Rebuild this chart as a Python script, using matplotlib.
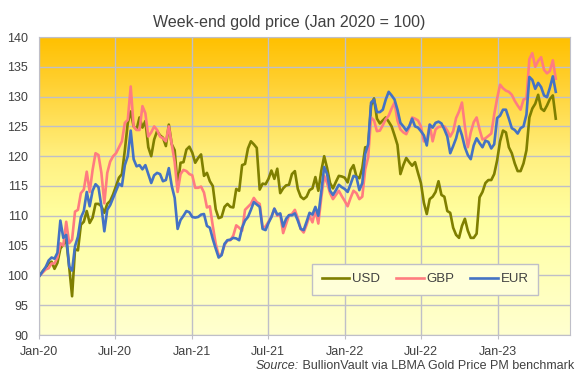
import numpy as np
import pandas as pd
import matplotlib
matplotlib.use('Agg')
import matplotlib.pyplot as plt
import matplotlib.dates as mdates
from matplotlib.colors import LinearSegmentedColormap

plt.rcParams['font.family'] = ['Liberation Sans', 'DejaVu Sans']

# weekly (Friday) index, Jan 2020 = 100
weeks = pd.date_range('2020-01-03', periods=177, freq='W-FRI')

usd = [100, 100.7, 101.3, 102, 102.3, 101.1, 102.1, 104.5, 105.2, 106,
       101.5, 96.5, 104.4, 104.2, 108.5, 109, 110.8, 108.8, 109.7, 112,
       112, 111.6, 110.5, 112, 112.5, 113.6, 115, 116.4, 117, 121,
       125.6, 127.5, 125, 124.5, 126.5, 124.8, 125.9, 121.5, 120, 122.8,
       124.2, 123.5, 123.1, 121.7, 125.3, 122, 121, 115, 118.9, 119,
       121.1, 121.6, 120.6, 118.9, 119.7, 120.3, 116.7, 117.2, 115.8, 115,
       111.1, 109.6, 109.8, 111.5, 112, 111.5, 111.4, 114.5, 114.2, 118.5,
       118.7, 121.3, 122.5, 122, 121.4, 114.4, 115.4, 115.3, 116.2, 117.6,
       116.2, 117.9, 113.8, 114.6, 115.1, 115.2, 117, 117.5, 114.5, 113.2,
       112.8, 113.2, 114.3, 114.6, 116.5, 114.2, 117.5, 120, 118, 115.5,
       114.6, 115.7, 116.7, 116.6, 116.4, 115.6, 117.7, 118.5, 116.6, 116.3,
       118, 121.5, 121.5, 128.5, 129.7, 126.3, 125.5, 126, 126.5, 125.8,
       125, 123.5, 121.9, 117, 118.5, 119.7, 119, 118.4, 119, 117.2,
       115.5, 112.2, 110.3, 112.8, 113.2, 114, 115.8, 113.5, 113.2, 110.8,
       110.5, 108, 106.8, 106.3, 108.3, 109.5, 107.5, 106.3, 106.3, 107,
       113.1, 114, 115.5, 116, 116, 117, 119.3, 122.5, 124.3, 124,
       121.5, 120.5, 118.8, 117.5, 117.5, 118.8, 121, 126.5, 128, 128.8,
       130.3, 128, 127.6, 128.5, 129.6, 130.2, 126.3]

gbp = [100, 100.5, 101, 101.2, 102, 102, 103, 105.4, 105, 109,
       105.4, 106, 110.7, 111, 113.8, 114.4, 117.4, 114, 117.7, 120.5,
       120.2, 117.2, 112.1, 117.2, 119.1, 120, 120.5, 121.5, 122.5, 125.6,
       126.1, 131.7, 125, 124.4, 124.4, 128.4, 127.2, 123.3, 124, 125,
       124.4, 123.3, 123, 122.5, 125, 122, 119, 114, 117, 117.7,
       117.5, 117, 116.8, 114.7, 114.7, 114.9, 113.9, 111.4, 111.6, 108.3,
       105.3, 103.4, 103.5, 105.1, 105.9, 105.9, 106.7, 108.4, 108, 107.5,
       111, 111.5, 112, 113, 112.3, 112, 108, 108.2, 109, 109.8,
       111.2, 110, 110.3, 107.1, 108.6, 110.1, 110.3, 111, 109.6, 107.8,
       107.2, 108.5, 110, 108.9, 111, 108.7, 113, 116.7, 115.5, 113.8,
       112.8, 113.5, 114.2, 113.3, 112.5, 111.6, 113, 114.2, 113.8, 112.8,
       113.2, 117.8, 119.8, 126.5, 126, 124.2, 124.3, 125.2, 126.2, 126.8,
       128, 129, 126, 124.5, 124, 123.7, 124.8, 126.5, 126.3, 126,
       125, 122.5, 122.5, 125.3, 122.5, 124.5, 124.9, 125, 125, 124.3,
       123.3, 124.2, 126.4, 127.5, 129, 125, 121.5, 124, 125.7, 126.5,
       124.5, 122.8, 123, 123.4, 123.8, 127, 129.7, 132, 131.4, 131,
       130.8, 130.3, 129.3, 128.5, 127.8, 129.5, 129.7, 136.3, 137.3, 135,
       136, 136.6, 134.5, 133.9, 134.3, 136.1, 133]

eur = [100, 100.7, 101.4, 102.5, 103, 102.8, 103.8, 109.2, 106.3, 106.8,
       101.5, 100.8, 104.9, 106.5, 109.7, 110.8, 114, 111.6, 114.2, 115.3,
       114.8, 111.6, 107.4, 111, 111.8, 113, 114.2, 115.4, 115, 118.5,
       120, 124.3, 119.5, 118.3, 118.5, 117.8, 118.5, 117, 115.5, 116.8,
       117.2, 117, 115.8, 116, 118, 115, 113, 107.8, 109.3, 110,
       110.8, 110.6, 109.8, 109.7, 109.8, 110.2, 110.3, 108.3, 108, 106.1,
       104.5, 103, 103.4, 105.3, 105.9, 106, 106.3, 106.2, 105.9, 108,
       109.2, 109.8, 111, 112.3, 111.9, 111.5, 107.8, 107.6, 108.8, 109.8,
       111.2, 110.2, 110.4, 108.2, 109.5, 110.1, 110.1, 110.4, 109.2, 107.8,
       107.6, 109, 110.5, 110.2, 111.5, 110, 114, 118.2, 117, 114.2,
       113.5, 114.3, 115.2, 114.8, 114.5, 114, 115.3, 116.7, 116.5, 114.3,
       115.5, 120.4, 122, 129, 129.5, 127.4, 127.4, 127.8, 129.5, 130.8,
       130.2, 129.5, 127.8, 125.6, 125, 124.3, 125, 126.3, 125, 124.8,
       124.2, 123.5, 121.8, 125.3, 124.8, 125.6, 125.8, 125.5, 124.5, 123.3,
       120.5, 121.7, 123, 125, 123.5, 121.5, 120.2, 119.5, 121.8, 123,
       122.2, 121.5, 122.6, 122.4, 121.3, 122, 126.4, 126.8, 127.8, 127.8,
       126.3, 124.7, 124.4, 123.8, 124.7, 125, 127, 133.3, 132.8, 131.3,
       132.3, 131.6, 130.2, 129.9, 131.5, 133.4, 130.8]

fig = plt.figure(figsize=(5.77, 3.81), dpi=100)
pos = [39 / 577, 1 - 335 / 381, 531 / 577, 298 / 381]

# gradient background behind the plot area
bg = fig.add_axes(pos, zorder=0)
cmap = LinearSegmentedColormap.from_list(
    'gold', [(0, '#FFFFD0'), (0.4, '#FFFFA0'), (0.6, '#FFF080'),
             (0.85, '#FFD030'), (1, '#FFC000')])
bg.imshow(np.linspace(0, 1, 256).reshape(-1, 1), cmap=cmap, aspect='auto',
          origin='lower', extent=[0, 1, 0, 1])
bg.axis('off')

ax = fig.add_axes(pos, zorder=1)
ax.patch.set_alpha(0)

ax.plot(weeks, usd, color='#7F7F00', lw=1.9, label='USD')
ax.plot(weeks, gbp, color='#FF7C80', lw=1.9, label='GBP')
ax.plot(weeks, eur, color='#4472C4', lw=1.9, label='EUR')

ax.set_ylim(90, 140)
ax.set_yticks(range(90, 141, 5))
ax.set_xlim(pd.Timestamp('2020-01-01'), pd.Timestamp('2023-06-22'))
ax.xaxis.set_major_locator(mdates.MonthLocator(bymonth=[1, 7]))
ax.xaxis.set_major_formatter(mdates.DateFormatter('%b-%y'))

ax.grid(color='#BFBFC8', lw=1)
ax.set_axisbelow(True)
for s in ax.spines.values():
    s.set_color('#BFBFC8')
ax.tick_params(axis='x', colors='#BFBFC8', length=3, pad=5, labelsize=9,
               labelcolor='#404040')
ax.tick_params(axis='y', length=0, pad=8, labelsize=9, labelcolor='#404040')

leg = ax.legend(ncol=3, loc='center', bbox_to_anchor=(0.727, 0.187),
                fancybox=False, edgecolor='#BFBFC8', facecolor='#FFFFD8',
                framealpha=1, fontsize=9.5, handlelength=2.1,
                handletextpad=0.2, columnspacing=1.2, borderpad=0.7)
for t in leg.get_texts():
    t.set_color('#404040')

fig.text(0.502, 0.942, 'Week-end gold price (Jan 2020 = 100)', ha='center',
         va='center', fontsize=11.5, color='#404040')
src = fig.text(0.995, 0.039, ' BullionVault via LBMA Gold Price PM benchmark',
               ha='right', va='center', fontsize=9, color='#404040')
fig.canvas.draw()
bb = src.get_window_extent()
fig.text(bb.x0 / fig.bbox.width, 0.039, 'Source:', ha='right', va='center',
         fontsize=9, color='#404040', style='italic')

fig.savefig('out.png', dpi=100)
